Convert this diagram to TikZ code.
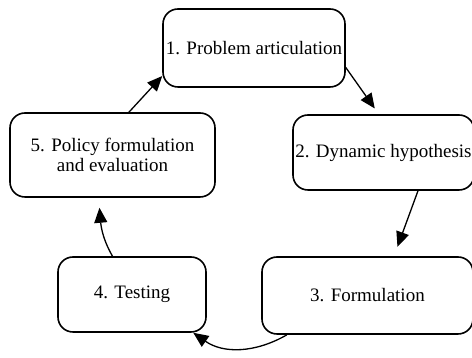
\documentclass[tikz,border=0pt]{standalone}
\usepackage{fontspec}
\setmainfont{Liberation Serif}
\usetikzlibrary{arrows.meta}

\begin{document}
\begin{tikzpicture}[
  x=1pt, y=1pt,
  stage/.style={draw,line width=1.6pt,rounded corners=15pt,align=center,inner sep=0pt,font=\fontsize{19}{20.5}\selectfont},
  arrow/.style={-{Triangle[length=15pt,width=13pt]},line width=1.3pt}
]
\useasboundingbox (0,0) rectangle (472,358);
\node[stage, minimum width=182pt, minimum height=78pt] (problem) at (254,310) {1. Problem articulation};
\node[stage, minimum width=181pt, minimum height=75pt] (hypothesis) at (383.5,205.5) {2. Dynamic hypothesis};
\node[stage, minimum width=211pt, minimum height=77pt] (formulation) at (367.5,62.5) {3. Formulation};
\node[stage, minimum width=148pt, minimum height=75pt] (testing) at (132,63.5) {4. Testing};
\node[stage, minimum width=205pt, minimum height=84pt] (policy) at (112.5,203) {5. Policy formulation\\and evaluation};
\draw[arrow] (policy.69) -- (problem.197);
\draw[arrow,shorten >=7pt] (problem.-12) -- (hypothesis.97);
\draw[arrow,shorten >=10pt] (hypothesis.-48) -- (formulation.56);
\draw[arrow] (formulation.206) to[out=-150,in=-35] (testing.-32);
\draw[arrow,shorten >=10pt] (testing.117) to[out=120,in=-85] (policy.252);
\end{tikzpicture}
\end{document}
